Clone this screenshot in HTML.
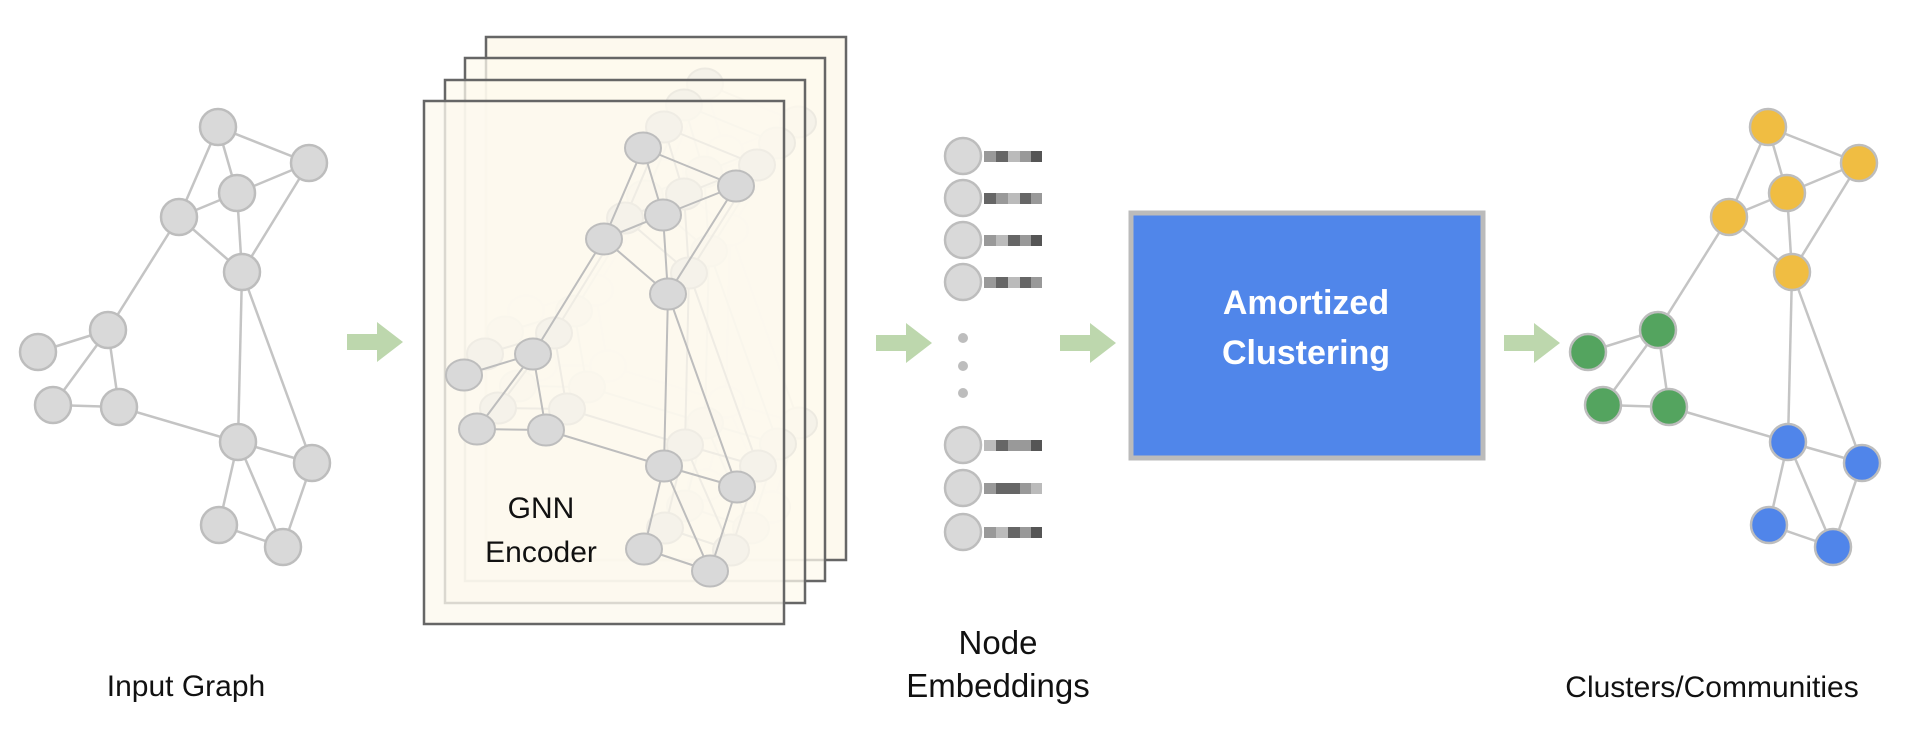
<!DOCTYPE html>
<html><head><meta charset="utf-8"><style>
html,body{margin:0;padding:0;background:#fff;}
svg{display:block;}
text{font-family:"Liberation Sans",sans-serif;}
</style></head><body>
<svg width="1930" height="734" viewBox="0 0 1930 734" xmlns="http://www.w3.org/2000/svg">
<defs>
  <g id="edges1" stroke="#c4c4c4" stroke-width="2.5" fill="none">
    <line x1="218" y1="127" x2="309" y2="163"/>
    <line x1="218" y1="127" x2="237" y2="193"/>
    <line x1="218" y1="127" x2="179" y2="217"/>
    <line x1="237" y1="193" x2="179" y2="217"/>
    <line x1="309" y1="163" x2="237" y2="193"/>
    <line x1="237" y1="193" x2="242" y2="272"/>
    <line x1="179" y1="217" x2="242" y2="272"/>
    <line x1="309" y1="163" x2="242" y2="272"/>
    <line x1="179" y1="217" x2="108" y2="330"/>
    <line x1="108" y1="330" x2="38" y2="352"/>
    <line x1="108" y1="330" x2="53" y2="405"/>
    <line x1="108" y1="330" x2="119" y2="407"/>
    <line x1="53" y1="405" x2="119" y2="407"/>
    <line x1="119" y1="407" x2="238" y2="442"/>
    <line x1="242" y1="272" x2="238" y2="442"/>
    <line x1="242" y1="272" x2="312" y2="463"/>
    <line x1="238" y1="442" x2="312" y2="463"/>
    <line x1="238" y1="442" x2="219" y2="525"/>
    <line x1="238" y1="442" x2="283" y2="547"/>
    <line x1="219" y1="525" x2="283" y2="547"/>
    <line x1="312" y1="463" x2="283" y2="547"/>
  </g>
  <g id="gnn">
    <g stroke="#bdbdbd" stroke-width="2" fill="none">
      <line x1="643" y1="148" x2="736" y2="186"/>
      <line x1="643" y1="148" x2="663" y2="215"/>
      <line x1="643" y1="148" x2="604" y2="239"/>
      <line x1="663" y1="215" x2="604" y2="239"/>
      <line x1="736" y1="186" x2="663" y2="215"/>
      <line x1="663" y1="215" x2="668" y2="294"/>
      <line x1="604" y1="239" x2="668" y2="294"/>
      <line x1="736" y1="186" x2="668" y2="294"/>
      <line x1="604" y1="239" x2="533" y2="354"/>
      <line x1="533" y1="354" x2="464" y2="375"/>
      <line x1="533" y1="354" x2="477" y2="429"/>
      <line x1="533" y1="354" x2="546" y2="430"/>
      <line x1="477" y1="429" x2="546" y2="430"/>
      <line x1="546" y1="430" x2="664" y2="466"/>
      <line x1="668" y1="294" x2="664" y2="466"/>
      <line x1="668" y1="294" x2="737" y2="487"/>
      <line x1="664" y1="466" x2="737" y2="487"/>
      <line x1="664" y1="466" x2="644" y2="549"/>
      <line x1="664" y1="466" x2="710" y2="571"/>
      <line x1="644" y1="549" x2="710" y2="571"/>
      <line x1="737" y1="487" x2="710" y2="571"/>
    </g>
    <g fill="#d9d9d9" stroke="#bdbdbd" stroke-width="2">
      <ellipse cx="643" cy="148" rx="18" ry="15.5"/>
      <ellipse cx="736" cy="186" rx="18" ry="15.5"/>
      <ellipse cx="663" cy="215" rx="18" ry="15.5"/>
      <ellipse cx="604" cy="239" rx="18" ry="15.5"/>
      <ellipse cx="668" cy="294" rx="18" ry="15.5"/>
      <ellipse cx="533" cy="354" rx="18" ry="15.5"/>
      <ellipse cx="464" cy="375" rx="18" ry="15.5"/>
      <ellipse cx="477" cy="429" rx="18" ry="15.5"/>
      <ellipse cx="546" cy="430" rx="18" ry="15.5"/>
      <ellipse cx="664" cy="466" rx="18" ry="15.5"/>
      <ellipse cx="737" cy="487" rx="18" ry="15.5"/>
      <ellipse cx="644" cy="549" rx="18" ry="15.5"/>
      <ellipse cx="710" cy="571" rx="18" ry="15.5"/>
    </g>
  </g>
  <polygon id="arrow" points="0,-8 30,-8 30,-20 56,0 30,20 30,8 0,8" fill="#bdd7ad"/>
</defs>

<!-- Input graph -->
<use href="#edges1"/>
<g fill="#d9d9d9" stroke="#bdbdbd" stroke-width="2.5">
  <circle cx="218" cy="127" r="18"/>
  <circle cx="309" cy="163" r="18"/>
  <circle cx="237" cy="193" r="18"/>
  <circle cx="179" cy="217" r="18"/>
  <circle cx="242" cy="272" r="18"/>
  <circle cx="108" cy="330" r="18"/>
  <circle cx="38" cy="352" r="18"/>
  <circle cx="53" cy="405" r="18"/>
  <circle cx="119" cy="407" r="18"/>
  <circle cx="238" cy="442" r="18"/>
  <circle cx="312" cy="463" r="18"/>
  <circle cx="219" cy="525" r="18"/>
  <circle cx="283" cy="547" r="18"/>
</g>
<text x="186" y="696" font-size="30" text-anchor="middle" fill="#111">Input Graph</text>

<use href="#arrow" x="347" y="342"/>

<!-- GNN stack -->
<rect x="486" y="37" width="360" height="523" fill="#fdf9ee" stroke="#666" stroke-width="2.5"/>
<use href="#gnn" x="62" y="-64"/>
<rect x="465" y="58" width="360" height="523" fill="#fdf9ee" fill-opacity="0.75" stroke="#666" stroke-width="2.5"/>
<use href="#gnn" x="41" y="-43"/>
<rect x="445" y="80" width="360" height="523" fill="#fdf9ee" fill-opacity="0.75" stroke="#666" stroke-width="2.5"/>
<use href="#gnn" x="21" y="-21"/>
<rect x="424" y="101" width="360" height="523" fill="#fdf9ee" fill-opacity="0.78" stroke="#666" stroke-width="2.5"/>
<use href="#gnn"/>
<text x="541" y="518" font-size="30" text-anchor="middle" fill="#111">GNN</text>
<text x="541" y="562" font-size="30" text-anchor="middle" fill="#111">Encoder</text>

<use href="#arrow" x="876" y="343"/>

<!-- Embeddings -->
<g fill="#d9d9d9" stroke="#bdbdbd" stroke-width="2.5">
  <circle cx="963" cy="156" r="18"/>
  <circle cx="963" cy="198" r="18"/>
  <circle cx="963" cy="240" r="18"/>
  <circle cx="963" cy="282" r="18"/>
  <circle cx="963" cy="445" r="18"/>
  <circle cx="963" cy="488" r="18"/>
  <circle cx="963" cy="532" r="18"/>
</g>
<g fill="#bdbdbd">
  <circle cx="963" cy="338" r="5"/>
  <circle cx="963" cy="366" r="5"/>
  <circle cx="963" cy="393" r="5"/>
</g>
<g>
  <rect x="984" y="151" width="12" height="11" fill="#999"/><rect x="996" y="151" width="12" height="11" fill="#666"/><rect x="1008" y="151" width="12" height="11" fill="#bbb"/><rect x="1020" y="151" width="11" height="11" fill="#999"/><rect x="1031" y="151" width="11" height="11" fill="#555"/>
  <rect x="984" y="193" width="12" height="11" fill="#666"/><rect x="996" y="193" width="12" height="11" fill="#999"/><rect x="1008" y="193" width="12" height="11" fill="#bbb"/><rect x="1020" y="193" width="11" height="11" fill="#666"/><rect x="1031" y="193" width="11" height="11" fill="#999"/>
  <rect x="984" y="235" width="12" height="11" fill="#999"/><rect x="996" y="235" width="12" height="11" fill="#bbb"/><rect x="1008" y="235" width="12" height="11" fill="#666"/><rect x="1020" y="235" width="11" height="11" fill="#999"/><rect x="1031" y="235" width="11" height="11" fill="#555"/>
  <rect x="984" y="277" width="12" height="11" fill="#999"/><rect x="996" y="277" width="12" height="11" fill="#666"/><rect x="1008" y="277" width="12" height="11" fill="#bbb"/><rect x="1020" y="277" width="11" height="11" fill="#666"/><rect x="1031" y="277" width="11" height="11" fill="#999"/>
  <rect x="984" y="440" width="12" height="11" fill="#bbb"/><rect x="996" y="440" width="12" height="11" fill="#666"/><rect x="1008" y="440" width="12" height="11" fill="#999"/><rect x="1020" y="440" width="11" height="11" fill="#999"/><rect x="1031" y="440" width="11" height="11" fill="#555"/>
  <rect x="984" y="483" width="12" height="11" fill="#999"/><rect x="996" y="483" width="12" height="11" fill="#666"/><rect x="1008" y="483" width="12" height="11" fill="#666"/><rect x="1020" y="483" width="11" height="11" fill="#999"/><rect x="1031" y="483" width="11" height="11" fill="#bbb"/>
  <rect x="984" y="527" width="12" height="11" fill="#999"/><rect x="996" y="527" width="12" height="11" fill="#bbb"/><rect x="1008" y="527" width="12" height="11" fill="#666"/><rect x="1020" y="527" width="11" height="11" fill="#999"/><rect x="1031" y="527" width="11" height="11" fill="#555"/>
</g>
<text x="998" y="654" font-size="33" text-anchor="middle" fill="#111">Node</text>
<text x="998" y="697" font-size="33" text-anchor="middle" fill="#111">Embeddings</text>

<use href="#arrow" x="1060" y="343"/>

<!-- Amortized Clustering -->
<rect x="1131" y="213" width="352" height="245" fill="#5086ea" stroke="#bbbbbb" stroke-width="5"/>
<text x="1306" y="314" font-size="34" font-weight="bold" text-anchor="middle" fill="#fff">Amortized</text>
<text x="1306" y="364" font-size="34" font-weight="bold" text-anchor="middle" fill="#fff">Clustering</text>

<use href="#arrow" x="1504" y="343"/>

<!-- Clusters graph -->
<g transform="translate(1550,0)">
  <use href="#edges1"/>
  <g stroke="#bdbdbd" stroke-width="2.5">
    <g fill="#f0bd42">
      <circle cx="218" cy="127" r="18"/>
      <circle cx="309" cy="163" r="18"/>
      <circle cx="237" cy="193" r="18"/>
      <circle cx="179" cy="217" r="18"/>
      <circle cx="242" cy="272" r="18"/>
    </g>
    <g fill="#54a45f">
      <circle cx="108" cy="330" r="18"/>
      <circle cx="38" cy="352" r="18"/>
      <circle cx="53" cy="405" r="18"/>
      <circle cx="119" cy="407" r="18"/>
    </g>
    <g fill="#5085ea">
      <circle cx="238" cy="442" r="18"/>
      <circle cx="312" cy="463" r="18"/>
      <circle cx="219" cy="525" r="18"/>
      <circle cx="283" cy="547" r="18"/>
    </g>
  </g>
</g>
<text x="1712" y="697" font-size="30" text-anchor="middle" fill="#111">Clusters/Communities</text>
</svg>
</body></html>
